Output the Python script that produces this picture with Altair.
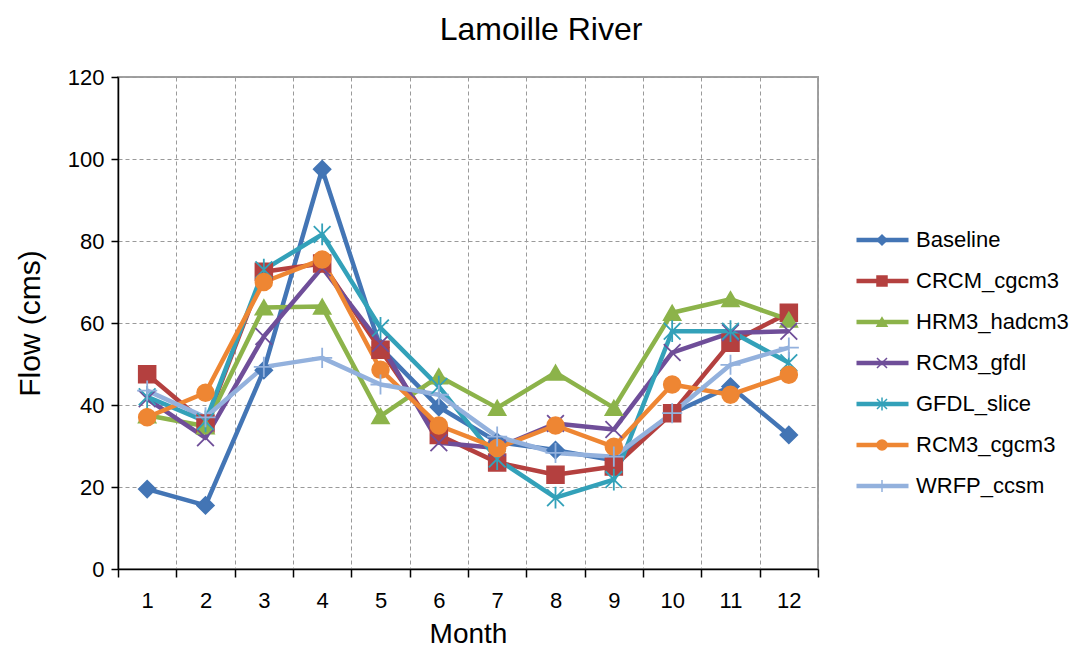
import altair as alt
import pandas as pd

months = [str(m) for m in range(1, 13)]
series_names = ["Baseline", "CRCM_cgcm3", "HRM3_hadcm3", "RCM3_gfdl",
                "GFDL_slice", "RCM3_cgcm3", "WRFP_ccsm"]

baseline = [19.5, 15.5, 48.5, 97.5, 54, 39.5, 31, 29, 26.5, 38, 44.5, 32.7]
crcm_cgcm3 = [47.5, 35.5, 72.5, 74.5, 53.5, 32.7, 26, 23, 25, 38, 55.2, 62.5]
hrm3_hadcm3 = [37.5, 34.8, 63.8, 64, 37.3, 47, 39.3, 47.9, 39.3, 62.5, 65.8, 60.8]
rcm3_gfdl = [41.5, 32, 56.7, 73.5, 55, 30.8, 29.5, 35.5, 34, 52.8, 57.6, 58]
gfdl_slice = [42, 36, 73, 81.6, 58.8, 44.5, 26.8, 17.4, 21.8, 58, 58, 50.3]
rcm3_cgcm3 = [37, 43, 70, 75.5, 48.6, 35, 29.5, 35, 29.8, 45, 42.5, 47.4]
wrfp_ccsm = [43.5, 37, 49.3, 51.5, 45, 42.5, 32.3, 28.3, 27.4, 38, 49.8, 54]

colors = ["#4375B5", "#B4403F", "#8CB34A", "#6F4E99", "#33A1B9", "#EE8633", "#93B1DD"]
shapes = ["diamond", "square", "triangle-up",
          "M-1,-1L1,1M-1,1L1,-1",
          "M-1,-1L1,1M-1,1L1,-1M0,-1.3L0,1.3",
          "circle",
          "M-1.2,0L1.2,0M0,-1.2L0,1.2"]

all_values = [baseline, crcm_cgcm3, hrm3_hadcm3, rcm3_gfdl, gfdl_slice, rcm3_cgcm3, wrfp_ccsm]
rows = []
for name, vals in zip(series_names, all_values):
    for m, v in zip(months, vals):
        rows.append({"Month": m, "Flow": v, "Series": name, "SeriesM": name})
df = pd.DataFrame(rows)

FONT = "Liberation Sans"

x_enc = alt.X(
    "Month:O", sort=months, bandPosition=0.5,
    scale=alt.Scale(type="band", paddingInner=0, paddingOuter=0),
    axis=alt.Axis(title="Month", labelAngle=0, tickBand="extent", grid=True,
                  gridColor="#9a9a9a", gridDash=[4, 3], gridWidth=1,
                  domainColor="#000000", domainWidth=1.5,
                  tickColor="#000000", tickSize=8, tickWidth=1.5,
                  labelFont=FONT, labelFontSize=22, labelColor="#000000", labelPadding=13,
                  titleFont=FONT, titleFontSize=28, titleFontWeight="normal",
                  titleColor="#000000", titlePadding=9),
)
y_enc = alt.Y(
    "Flow:Q",
    scale=alt.Scale(domain=[0, 120], nice=False),
    axis=alt.Axis(title="Flow (cms)", values=[0, 20, 40, 60, 80, 100, 120], grid=True,
                  gridColor="#9a9a9a", gridDash=[4, 3], gridWidth=1,
                  domainColor="#000000", domainWidth=1.5,
                  tickColor="#000000", tickSize=7, tickWidth=1.5,
                  labelFont=FONT, labelFontSize=22, labelColor="#000000", labelPadding=7,
                  titleFont=FONT, titleFontSize=30, titleFontWeight="normal",
                  titleColor="#000000", titlePadding=22),
)

legend_a = alt.Legend(orient="none", legendX=736, legendY=152, title=None,
                      symbolType="stroke", symbolSize=2704, symbolStrokeWidth=4.5,
                      labelFont=FONT, labelFontSize=22, labelColor="#000000",
                      labelOffset=5, clipHeight=22, rowPadding=19, padding=0)
legend_b = alt.Legend(orient="none", legendX=753, legendY=152, title=None,
                      symbolSize=100, symbolStrokeWidth=1.5, symbolOpacity=1,
                      labelFont=FONT, labelFontSize=22, labelExpr="''",
                      labelOffset=5, clipHeight=22, rowPadding=19, padding=0)

lines = alt.Chart(df).mark_line(strokeWidth=4.5, strokeJoin="round").encode(
    x=x_enc, y=y_enc,
    color=alt.Color("Series:N", sort=None,
                    scale=alt.Scale(range=colors), legend=legend_a),
)

points = alt.Chart(df).mark_point(filled=True, size=280, strokeWidth=1.8, opacity=1).encode(
    x=x_enc, y=y_enc,
    shape=alt.Shape("SeriesM:N", sort=None,
                    scale=alt.Scale(range=shapes), legend=legend_b),
    fill=alt.Fill("SeriesM:N", sort=None,
                  scale=alt.Scale(range=colors), legend=legend_b),
    stroke=alt.Stroke("SeriesM:N", sort=None,
                      scale=alt.Scale(range=colors), legend=legend_b),
)

chart = alt.layer(lines, points).properties(
    width=700, height=492,
    padding={"left": 110, "top": 69, "right": 263, "bottom": 79},
    autosize=alt.AutoSizeParams(type="none"),
    title=alt.TitleParams("Lamoille River", font=FONT, fontSize=32, fontWeight="normal",
                          color="#000000", anchor="middle", dx=73, dy=26, offset=20,
                          baseline="alphabetic"),
).configure_view(stroke="#a0a0a0", strokeWidth=2)

chart.save("out.html", embed_options={"renderer": "svg", "actions": False})
